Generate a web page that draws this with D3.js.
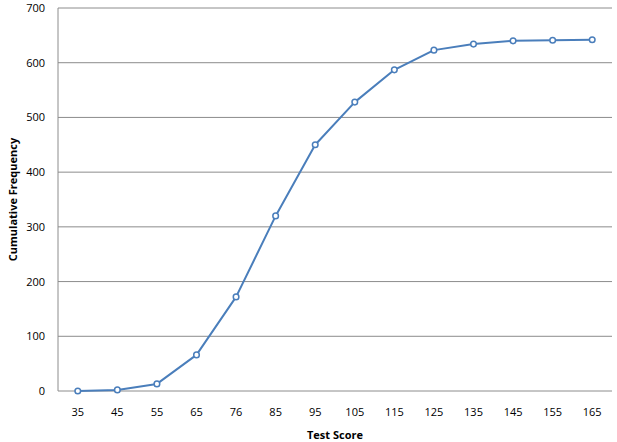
<!DOCTYPE html>
<html>
<head>
<meta charset="utf-8">
<script src="https://cdn.jsdelivr.net/npm/d3@7"></script>
<style>
  html, body { margin: 0; padding: 0; background: #fff; }
  svg { display: block; font-family: "Open Sans", "Liberation Sans", sans-serif; }
</style>
</head>
<body>
<svg id="chart" width="617" height="442"></svg>
<script>
// test score classes and cumulative counts
const scores = ['35', '45', '55', '65', '76', '85', '95', '105', '115', '125', '135', '145', '155', '165'];
const cumFreq = [0, 2, 13, 66, 172, 320, 450, 528, 587, 623, 634, 640, 641, 642];
const yTicks = [0, 100, 200, 300, 400, 500, 600, 700];

const W = 617, H = 442;
const m = { t: 8, r: 5, b: 51, l: 58 };
const svg = d3.select('#chart');

const x = d3.scaleBand().domain(scores).range([m.l, W - m.r]);
const y = d3.scaleLinear().domain([0, 700]).range([H - m.b, m.t]);

// gridlines
svg.append('g').selectAll('line').data(yTicks).join('line')
  .attr('x1', m.l).attr('x2', W - m.r)
  .attr('y1', d => y(d)).attr('y2', d => y(d))
  .attr('stroke', '#8c8c8c').attr('stroke-width', 1);

// left axis line
svg.append('line').attr('x1', m.l).attr('x2', m.l).attr('y1', y(700)).attr('y2', y(0))
  .attr('stroke', '#8c8c8c').attr('stroke-width', 1);

// y tick labels
svg.append('g').selectAll('text').data(yTicks).join('text')
  .attr('x', m.l - 13).attr('y', d => y(d) + 4)
  .attr('text-anchor', 'end').attr('font-size', 11).attr('fill', '#000')
  .text(d => d);

// x tick labels
svg.append('g').selectAll('text').data(scores).join('text')
  .attr('x', d => x(d) + x.bandwidth() / 2).attr('y', H - m.b + 25)
  .attr('text-anchor', 'middle').attr('font-size', 11).attr('fill', '#000')
  .text(d => d);

// axis titles
svg.append('text').attr('x', (m.l + W - m.r) / 2).attr('y', 439)
  .attr('text-anchor', 'middle').attr('font-size', 11).attr('font-weight', 700)
  .text('Test Score');
svg.append('text')
  .attr('transform', `translate(17,${(m.t + H - m.b) / 2}) rotate(-90)`)
  .attr('text-anchor', 'middle').attr('font-size', 11).attr('font-weight', 700)
  .text('Cumulative Frequency');

// ogive line
const pts = scores.map((s, i) => ({ s, v: cumFreq[i] }));
const line = d3.line().x(d => x(d.s) + x.bandwidth() / 2).y(d => y(d.v));
svg.append('path').datum(pts).attr('d', line).attr('fill', 'none')
  .attr('stroke', '#4a7ebb').attr('stroke-width', 2).attr('stroke-linejoin', 'round');

svg.append('g').selectAll('circle').data(pts).join('circle')
  .attr('cx', d => x(d.s) + x.bandwidth() / 2).attr('cy', d => y(d.v))
  .attr('r', 2.8).attr('fill', '#fff').attr('stroke', '#4a7ebb').attr('stroke-width', 1.5);
</script>
</body>
</html>
